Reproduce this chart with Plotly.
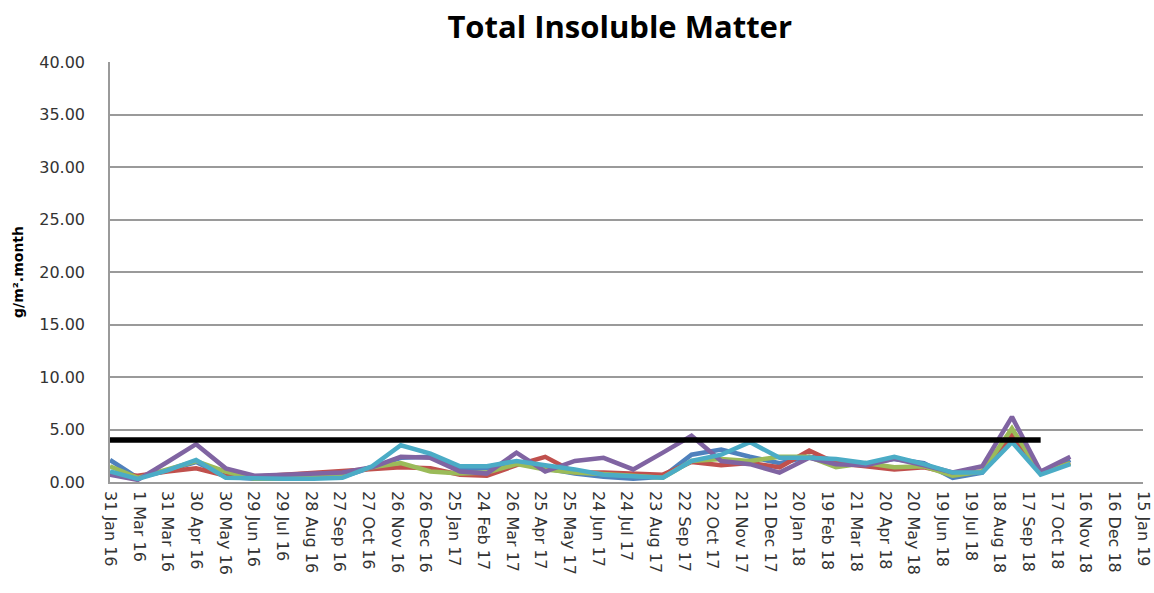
import plotly.graph_objects as go
import pandas as pd

# Month-end sampling dates (Jan 2016 - Oct 2018)
dates = pd.date_range("2016-01-31", periods=34, freq="ME")

series_names = ["Site 1", "Site 2", "Site 3", "Site 4", "Site 5"]
blue = [2.1, 0.4, 1.1, 1.9, 0.5, 0.3, 0.3, 0.4, 0.5, 1.4, 2.3, 2.4, 1.2, 1.3, 1.8, 1.3, 0.8,
        0.5, 0.3, 0.5, 2.6, 3.1, 2.4, 1.8, 2.4, 2.1, 1.7, 2.2, 1.8, 0.4, 0.9, 4.2, 0.8, 2.1]
red = [0.8, 0.6, 1.0, 1.3, 0.6, 0.5, 0.7, 0.9, 1.0, 1.3, 1.4, 1.3, 0.7, 0.6, 1.6, 2.4, 0.9,
       0.9, 0.8, 0.7, 1.9, 1.6, 1.8, 1.4, 3.0, 1.8, 1.5, 1.2, 1.4, 0.8, 1.0, 4.5, 0.9, 1.8]
green = [1.5, 0.4, 1.2, 2.0, 1.0, 0.3, 0.3, 0.4, 0.7, 1.4, 1.8, 1.0, 0.8, 0.9, 1.7, 1.2, 0.9,
         0.7, 0.6, 0.4, 2.0, 2.2, 2.0, 2.4, 2.4, 1.4, 1.8, 1.4, 1.5, 0.6, 1.0, 5.1, 0.8, 1.8]
purple = [0.7, 0.2, 1.9, 3.6, 1.3, 0.6, 0.7, 0.8, 0.9, 1.4, 2.4, 2.3, 1.0, 0.8, 2.8, 1.0, 2.0,
          2.3, 1.2, 2.8, 4.4, 2.0, 1.7, 0.9, 2.3, 1.7, 1.6, 2.2, 1.6, 0.9, 1.5, 6.2, 1.0, 2.4]
teal = [1.0, 0.3, 1.1, 2.1, 0.4, 0.3, 0.3, 0.3, 0.4, 1.5, 3.5, 2.7, 1.5, 1.5, 2.0, 1.6, 1.2,
        0.7, 0.6, 0.4, 2.0, 2.6, 3.8, 2.3, 2.3, 2.2, 1.8, 2.4, 1.7, 0.9, 0.9, 3.8, 0.7, 1.7]

limit_value = 4.0
limit_dates = dates[:33]

colors = ["#4F81BD", "#C0504D", "#9BBB59", "#8064A2", "#4BACC6"]

fig = go.Figure()
for name, vals, col in zip(series_names, [blue, red, green, purple, teal], colors):
    fig.add_trace(go.Scatter(x=dates, y=vals, mode="lines", name=name,
                             line=dict(color=col, width=4.5)))

fig.add_trace(go.Scatter(x=limit_dates, y=[limit_value] * len(limit_dates), mode="lines",
                         name="Limit", line=dict(color="black", width=5.5)))

fig.update_layout(
    width=1154, height=593,
    paper_bgcolor="white", plot_bgcolor="white",
    showlegend=False,
    margin=dict(l=110, r=11, t=62, b=111, autoexpand=False),
    title=dict(text="<b>Total Insoluble Matter</b>", x=0.537, xanchor="center",
               y=0.955, yanchor="middle",
               font=dict(family="Open Sans", size=31, color="black")),
    font=dict(family="DejaVu Sans", color="#404040"),
)

fig.update_xaxes(
    type="date", automargin=False,
    range=["2016-01-31", "2019-01-15"],
    tick0="2016-01-31", dtick=30 * 86400000,
    tickformat="%-d %b %y", tickangle=90,
    tickfont=dict(family="DejaVu Sans", size=16, color="#333333"),
    showgrid=False, showline=True, linecolor="#9a9a9a", linewidth=1.5,
    ticks="", ticklabelstandoff=4, ticklabeloverflow="allow",
)

fig.update_yaxes(
    automargin=False,
    range=[0, 40], dtick=5, tickformat=".2f",
    tickfont=dict(family="DejaVu Sans", size=16, color="#333333"),
    showgrid=True, gridcolor="#9a9a9a", gridwidth=1.5,
    showline=True, linecolor="#9a9a9a", linewidth=1.5,
    zeroline=False, ticks="", ticklabelstandoff=20,
    title=dict(text="<b>g/m².month</b>", font=dict(family="DejaVu Sans", size=14, color="black"),
               standoff=12),
)

fig.write_html("out.html", config={"displayModeBar": False},
               post_script="document.body.style.margin='0';document.body.style.overflow='hidden';")
